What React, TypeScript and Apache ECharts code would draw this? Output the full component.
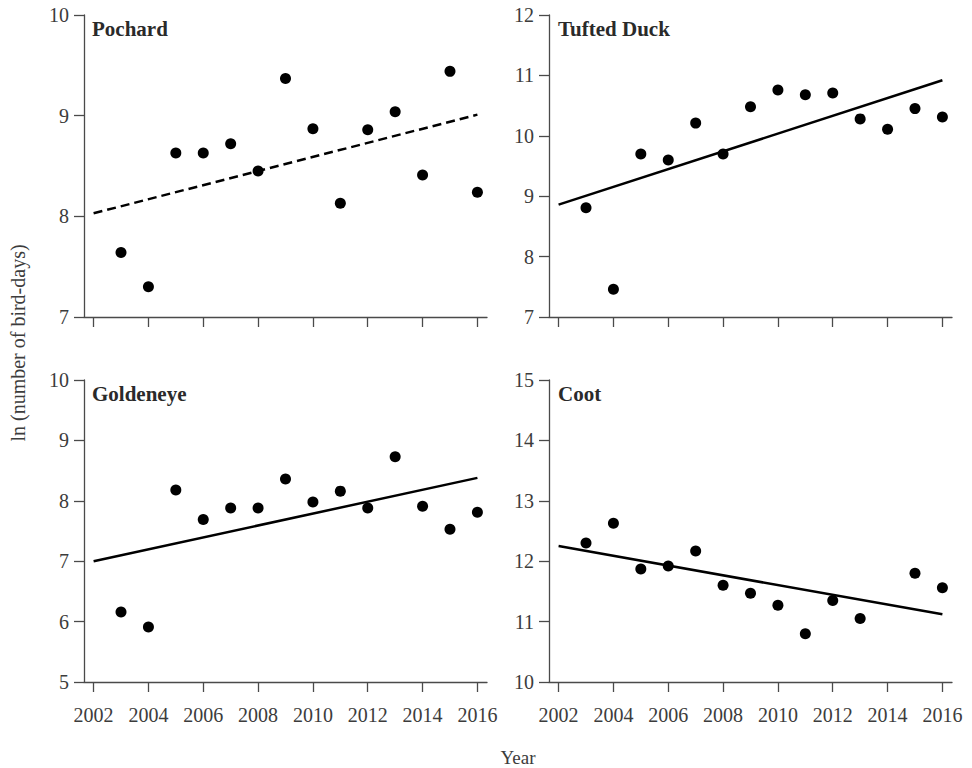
import React, { useEffect, useRef } from "react";
import * as echarts from "echarts";

const years = [2003, 2004, 2005, 2006, 2007, 2008, 2009, 2010, 2011, 2012, 2013, 2014, 2015, 2016];
const tickYears = [2002, 2004, 2006, 2008, 2010, 2012, 2014, 2016];

const pochard = [7.64, 7.30, 8.63, 8.63, 8.72, 8.45, 9.37, 8.87, 8.13, 8.86, 9.04, 8.41, 9.44, 8.24];
const tufted = [8.81, 7.46, 9.70, 9.60, 10.21, 9.70, 10.48, 10.76, 10.68, 10.71, 10.28, 10.11, 10.45, 10.31];
const goldeneye = [6.16, 5.91, 8.18, 7.69, 7.88, 7.88, 8.36, 7.98, 8.16, 7.88, 8.73, 7.91, 7.53, 7.81];
const coot = [12.30, 12.63, 11.87, 11.92, 12.17, 11.60, 11.47, 11.27, 10.80, 11.35, 11.05, null, 11.80, 11.56];

const trendYears = [2002, 2016];
const pochardTrend = [8.03, 9.01];
const tuftedTrend = [8.86, 10.92];
const goldeneyeTrend = [7.0, 8.38];
const cootTrend = [12.25, 11.12];

const panelNames = ["Pochard", "Tufted Duck", "Goldeneye", "Coot"];
const yMins = [7, 7, 5, 10];
const yMaxs = [10, 12, 10, 15];
const yLabel = "ln (number of bird-days)";
const xLabel = "Year";

const FONT = '"Liberation Serif", "DejaVu Serif", serif';
const AXIS_COLOR = "#4a4a4a";
const LABEL_COLOR = "#3c3c3c";

export default function App() {
  const ref = useRef<HTMLDivElement>(null);
  useEffect(() => {
    if (!ref.current) return;
    const chart = echarts.init(ref.current, null, { renderer: "svg" });
    const values = [pochard, tufted, goldeneye, coot];
    const trends = [pochardTrend, tuftedTrend, goldeneyeTrend, cootTrend];
    const grids = [
      { left: 84, top: 15, width: 403, height: 302 },
      { left: 549, top: 15, width: 403, height: 302 },
      { left: 84, top: 380, width: 403, height: 302 },
      { left: 549, top: 380, width: 403, height: 302 },
    ];
    const xAxes = grids.map((_, i) => ({
      type: "value",
      gridIndex: i,
      min: 2001.65,
      max: 2016.35,
      axisLine: { show: true, lineStyle: { color: AXIS_COLOR, width: 1.3 } },
      axisTick: {
        show: true,
        length: 10,
        customValues: tickYears,
        lineStyle: { color: AXIS_COLOR, width: 1.3 },
      },
      axisLabel: {
        show: i >= 2,
        customValues: tickYears,
        margin: 23,
        color: LABEL_COLOR,
        fontFamily: FONT,
        fontSize: 20,
        formatter: (v: number) => String(v),
      },
      splitLine: { show: false },
    }));
    const yAxes = grids.map((_, i) => ({
      type: "value",
      gridIndex: i,
      min: yMins[i],
      max: yMaxs[i],
      interval: 1,
      axisLine: { show: true, lineStyle: { color: AXIS_COLOR, width: 1.3 } },
      axisTick: { show: true, length: 10, lineStyle: { color: AXIS_COLOR, width: 1.3 } },
      axisLabel: {
        margin: 15,
        color: LABEL_COLOR,
        fontFamily: FONT,
        fontSize: 20,
      },
      splitLine: { show: false },
    }));
    const series: any[] = [];
    values.forEach((vals, i) => {
      series.push({
        type: "line",
        xAxisIndex: i,
        yAxisIndex: i,
        data: trendYears.map((y, k) => [y, trends[i][k]]),
        symbol: "none",
        lineStyle: {
          color: "#000",
          width: 2.5,
          type: i === 0 ? [9, 5] : "solid",
        },
        z: 2,
      });
      series.push({
        type: "scatter",
        xAxisIndex: i,
        yAxisIndex: i,
        data: years
          .map((y, k) => [y, vals[k]])
          .filter((p) => p[1] !== null),
        symbol: "circle",
        symbolSize: 11,
        itemStyle: { color: "#000", opacity: 1 },
        z: 3,
      });
    });
    const titlePos = [
      [92, 29],
      [558, 29],
      [92, 394],
      [558, 394],
    ];
    const graphic: any[] = panelNames.map((name, i) => ({
      type: "text",
      x: titlePos[i][0],
      y: titlePos[i][1],
      style: {
        text: name,
        fill: "#2a2a2a",
        font: `bold 21px ${FONT}`,
        align: "left",
        verticalAlign: "middle",
      },
    }));
    graphic.push({
      type: "text",
      x: 18,
      y: 343,
      rotation: Math.PI / 2,
      style: {
        text: yLabel,
        fill: LABEL_COLOR,
        font: `20px ${FONT}`,
        align: "center",
        verticalAlign: "middle",
      },
    });
    graphic.push({
      type: "text",
      x: 518,
      y: 757,
      style: {
        text: xLabel,
        fill: LABEL_COLOR,
        font: `19px ${FONT}`,
        align: "center",
        verticalAlign: "middle",
      },
    });
    chart.setOption({
      animation: false,
      backgroundColor: "#fff",
      grid: grids,
      xAxis: xAxes,
      yAxis: yAxes,
      series,
      graphic,
    });
    return () => chart.dispose();
  }, []);
  return (
    <div
      ref={ref}
      style={{ position: "fixed", left: 0, top: 0, width: 972, height: 768 }}
    />
  );
}
